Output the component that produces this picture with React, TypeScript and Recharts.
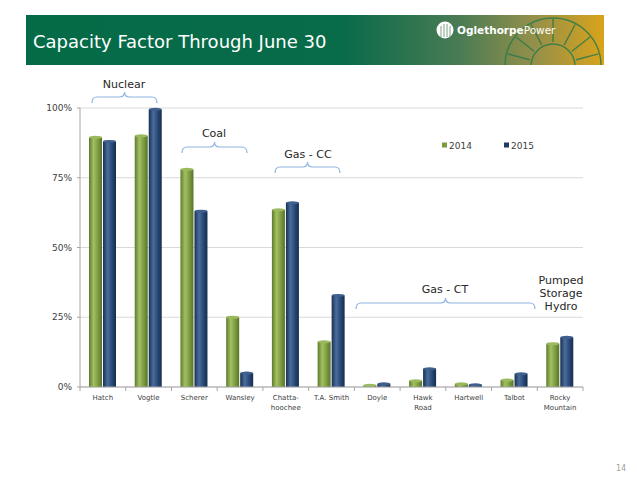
import { BarChart, Bar, XAxis, YAxis, CartesianGrid } from 'recharts';

const plants = [
  'Hatch',
  'Vogtle',
  'Scherer',
  'Wansley',
  'Chatta-\nhoochee',
  'T.A. Smith',
  'Doyle',
  'Hawk\nRoad',
  'Hartwell',
  'Talbot',
  'Rocky\nMountain',
];
const factor2014 = [89.5, 90, 78, 25, 63.5, 16.2, 0.6, 2.2, 1.1, 2.5, 15.5];
const factor2015 = [88, 99.5, 63, 5, 66, 32.8, 1.1, 6.5, 0.8, 4.7, 17.8];
const seriesNames = ['2014', '2015'];
const yTicks = [0, 25, 50, 75, 100];

const W = 637;
const H = 478;
const M = { top: 108, right: 54, bottom: 61, left: 30 };
const Y_AXIS_W = 50;
const STEP = (W - M.left - M.right - Y_AXIS_W) / plants.length;

const chartData = plants.map((name, i) => ({ name, y2014: factor2014[i], y2015: factor2015[i] }));

const FONT = '"DejaVu Sans", Verdana, sans-serif';
const AXIS_GRAY = '#a6a6a6';

function CylinderBar(props: any) {
  const { x, y, width, height, gradId, capColor } = props;
  if (!width || height == null) return null;
  const ry = 1.6;
  return (
    <g>
      <rect x={x} y={y} width={width} height={Math.max(height, 0)} fill={`url(#${gradId})`} />
      <ellipse cx={x + width / 2} cy={y} rx={width / 2} ry={ry} fill={capColor} />
    </g>
  );
}

function PlantTick(props: any) {
  const { x, y, payload, index } = props;
  const lines = String(payload.value).split('\n');
  const axisY = y - 8;
  return (
    <g>
      <line x1={x - STEP / 2} x2={x - STEP / 2} y1={axisY} y2={axisY + 4} stroke={AXIS_GRAY} />
      {index === plants.length - 1 && (
        <line x1={x + STEP / 2} x2={x + STEP / 2} y1={axisY} y2={axisY + 4} stroke={AXIS_GRAY} />
      )}
      <text x={x} y={y + 5} textAnchor="middle" fontSize={7} fill="#404040" fontFamily={FONT}>
        {lines.map((l, i) => (
          <tspan key={i} x={x} dy={i === 0 ? 0 : 9.5}>
            {l}
          </tspan>
        ))}
      </text>
    </g>
  );
}

function Brace({ x1, x2, y }: { x1: number; x2: number; y: number }) {
  // y = tip, arms drop ~11px
  const xc = (x1 + x2) / 2;
  const ym = y + 5;
  const yb = y + 11;
  const r = 5;
  const d = `M${x1},${yb} Q${x1},${ym} ${x1 + r},${ym} L${xc - r},${ym} Q${xc},${ym} ${xc},${y} Q${xc},${ym} ${xc + r},${ym} L${x2 - r},${ym} Q${x2},${ym} ${x2},${yb}`;
  return <path d={d} fill="none" stroke="#8eb4e3" strokeWidth={1.2} />;
}

function Header() {
  const fanCx = 553;
  const fanCy = 66;
  const spokes = [15, 38, 62, 90, 118, 142, 165];
  return (
    <svg width={W} height={80} style={{ position: 'absolute', left: 0, top: 0 }}>
      <defs>
        <linearGradient id="band" x1="0" x2="1" y1="0" y2="0">
          <stop offset="0" stopColor="#046b47" />
          <stop offset="0.55" stopColor="#086b49" />
          <stop offset="0.75" stopColor="#4a7b54" />
          <stop offset="0.88" stopColor="#94904a" />
          <stop offset="1" stopColor="#d9a31a" />
        </linearGradient>
        <clipPath id="bandClip">
          <rect x={26} y={15} width={578} height={50} />
        </clipPath>
      </defs>
      <rect x={26} y={15} width={578} height={50} fill="url(#band)" />
      <g clipPath="url(#bandClip)" stroke="#2f7a4c" strokeWidth={1.4} fill="none" opacity={0.85}>
        <path d={`M${fanCx - 48},${fanCy} A48,48 0 0 1 ${fanCx + 48},${fanCy}`} />
        <path d={`M${fanCx - 22},${fanCy} A22,22 0 0 1 ${fanCx + 22},${fanCy}`} />
        {spokes.map((a) => {
          const rad = (a * Math.PI) / 180;
          return (
            <line
              key={a}
              x1={fanCx + 24 * Math.cos(rad)}
              y1={fanCy - 24 * Math.sin(rad)}
              x2={fanCx + 47 * Math.cos(rad)}
              y2={fanCy - 47 * Math.sin(rad)}
            />
          );
        })}
      </g>
      <text x={33} y={48} fontSize={18} fill="#ffffff" fontFamily={FONT}>
        Capacity Factor Through June 30
      </text>
      <circle cx={445} cy={30} r={8.5} fill="#ffffff" />
      <g stroke="#5b8a66" strokeWidth={0.8}>
        <line x1={441} y1={26} x2={441} y2={37} />
        <line x1={444} y1={24} x2={444} y2={37} />
        <line x1={447} y1={24} x2={447} y2={37} />
        <line x1={450} y1={26} x2={450} y2={37} />
      </g>
      <text x={457} y={34} fontSize={10.5} fill="#ffffff" fontFamily={FONT}>
        <tspan fontWeight="bold">Oglethorpe</tspan>
        <tspan>Power</tspan>
      </text>
    </svg>
  );
}

function Overlay() {
  const legendColors = ['#7a9a3e', '#1f3a63'];
  const legendX = [442, 504];
  return (
    <svg width={W} height={H} style={{ position: 'absolute', left: 0, top: 0, pointerEvents: 'none' }}>
      <g fontFamily={FONT} fontSize={11} fill="#262626" textAnchor="middle">
        <text x={124} y={88}>Nuclear</text>
        <text x={214} y={137}>Coal</text>
        <text x={308} y={158}>Gas - CC</text>
        <text x={445} y={293}>Gas - CT</text>
        <text x={561} y={284}>Pumped</text>
        <text x={561} y={297}>Storage</text>
        <text x={561} y={310}>Hydro</text>
      </g>
      <Brace x1={92} x2={157} y={92} />
      <Brace x1={182} x2={247} y={142} />
      <Brace x1={275} x2={340} y={162} />
      <Brace x1={356} x2={535} y={298} />
      {seriesNames.map((s, i) => (
        <g key={s}>
          <rect x={legendX[i]} y={142.5} width={5} height={5} fill={legendColors[i]} />
          <text x={legendX[i] + 7} y={148.5} fontSize={9} fill="#404040" fontFamily={FONT}>
            {s}
          </text>
        </g>
      ))}
      <text x={621} y={471} fontSize={8} fill="#a0a0a0" textAnchor="middle" fontFamily={FONT}>
        14
      </text>
    </svg>
  );
}

export default function App() {
  return (
    <div style={{ position: 'absolute', left: 0, top: 0, width: W, height: H, background: '#fff' }}>
      <Header />
      <BarChart width={W} height={H} data={chartData} margin={M} barSize={13} barGap={1}>
        <defs>
          <linearGradient id="gGreen" x1="0" x2="1" y1="0" y2="0">
            <stop offset="0" stopColor="#5d7a2a" />
            <stop offset="0.35" stopColor="#a3c064" />
            <stop offset="0.75" stopColor="#76953a" />
            <stop offset="1" stopColor="#56722a" />
          </linearGradient>
          <linearGradient id="gBlue" x1="0" x2="1" y1="0" y2="0">
            <stop offset="0" stopColor="#16304f" />
            <stop offset="0.35" stopColor="#4b6d9c" />
            <stop offset="0.75" stopColor="#23436f" />
            <stop offset="1" stopColor="#162d4d" />
          </linearGradient>
        </defs>
        <CartesianGrid vertical={false} stroke="#d9d9d9" />
        <XAxis
          dataKey="name"
          height={30}
          interval={0}
          tickLine={false}
          axisLine={{ stroke: AXIS_GRAY }}
          tick={<PlantTick />}
        />
        <YAxis
          width={Y_AXIS_W}
          domain={[0, 100]}
          ticks={yTicks}
          tickFormatter={(v: number) => `${v}%`}
          tickSize={3}
          tickMargin={5}
          tickLine={{ stroke: AXIS_GRAY }}
          axisLine={{ stroke: AXIS_GRAY }}
          tick={{ fontSize: 9, fill: '#404040', fontFamily: FONT }}
        />
        <Bar
          dataKey="y2014"
          name={seriesNames[0]}
          isAnimationActive={false}
          shape={(p: any) => <CylinderBar {...p} gradId="gGreen" capColor="#9cb95e" />}
        />
        <Bar
          dataKey="y2015"
          name={seriesNames[1]}
          isAnimationActive={false}
          shape={(p: any) => <CylinderBar {...p} gradId="gBlue" capColor="#3f5f8c" />}
        />
      </BarChart>
      <Overlay />
    </div>
  );
}
